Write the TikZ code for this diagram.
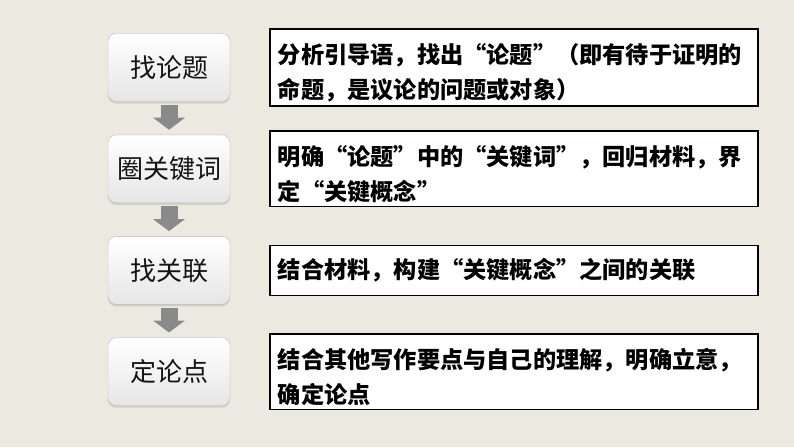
\documentclass[tikz,border=0pt]{standalone}
\usepackage{fontspec}
\setmainfont{Noto Sans CJK SC}
\usetikzlibrary{positioning,arrows.meta,shadows}

\definecolor{paper}{RGB}{236,234,224}
\definecolor{arrowgray}{RGB}{138,138,138}

% pushes the text of a note down a little
\newcommand{\lowr}{\rule{0pt}{31pt}}

\begin{document}
\begin{tikzpicture}[x=1pt,y=-1pt,
  stepbox/.style={draw=gray!55, rounded corners=8pt, top color=white, bottom color=gray!20,
    minimum width=122pt, minimum height=68pt, text=black!92,
    font=\fontsize{26}{30}\selectfont,
    drop shadow={shadow xshift=0pt, shadow yshift=-2pt, opacity=.25}},
  notebox/.style={draw=black, line width=1.3pt, fill=white, minimum width=488pt,
    text width=472pt, inner xsep=8pt, align=left,
    font=\fontsize{23.2}{35.5}\selectfont\bfseries},
  downarrow/.style={arrowgray, line width=17pt, shorten <=3pt, shorten >=5pt,
    -{Triangle[width=32pt,length=12pt,line width=0pt]}}]

  \fill[paper] (0,0) rectangle (794,447);

  % the four steps
  \node[stepbox] (find) at (169,67.5) {找论题};
  \node[stepbox, below=33pt of find] (keys) {圈关键词};
  \node[stepbox, below=33pt of keys] (link) {找关联};
  \node[stepbox, below=33pt of link] (point) {定论点};

  \draw[downarrow] (find) -- (keys);
  \draw[downarrow] (keys) -- (link);
  \draw[downarrow] (link) -- (point);

  % what each step means
  \node[notebox, minimum height=76pt, right=39pt of find] (findnote)
    {\lowr 分析引导语，找出“论题”（即有待于证明的\\命题，是议论的问题或对象）};
  \node[notebox, minimum height=74pt, right=39pt of keys] (keysnote)
    {\lowr 明确“论题”中的“关键词”，回归材料，界\\定“关键概念”};
  \node[notebox, minimum height=50pt, right=39pt of link] (linknote)
    {结合材料，构建“关键概念”之间的关联};
  \node[notebox, minimum height=74pt, right=39pt of point] (pointnote)
    {\lowr 结合其他写作要点与自己的理解，明确立意，\\确定论点};

\end{tikzpicture}
\end{document}
